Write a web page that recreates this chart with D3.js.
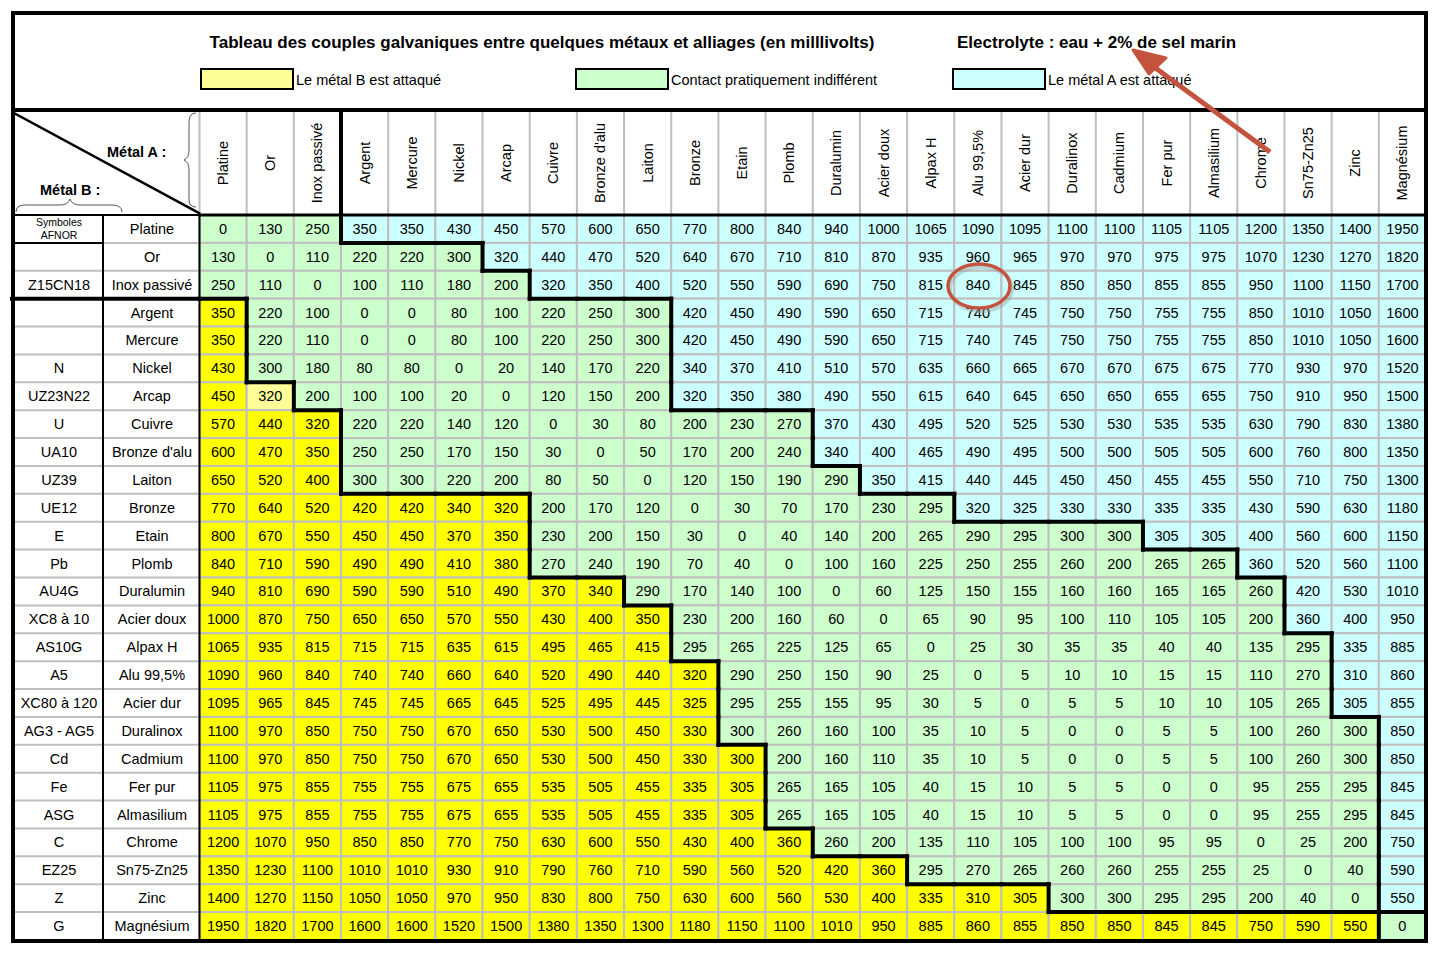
<!DOCTYPE html>
<html><head><meta charset="utf-8">
<script src="https://cdn.jsdelivr.net/npm/d3@7"></script>
<style>body{margin:0;background:#fff}text{font-family:"Liberation Sans",Arial,sans-serif}</style>
</head><body>
<svg id="c" width="1443" height="961"></svg>
<script>
const metals = ["Platine","Or","Inox passivé","Argent","Mercure","Nickel","Arcap","Cuivre","Bronze d'alu","Laiton","Bronze","Etain","Plomb","Duralumin","Acier doux","Alpax H","Alu 99,5%","Acier dur","Duralinox","Cadmium","Fer pur","Almasilium","Chrome","Sn75-Zn25","Zinc","Magnésium"];
const afnor = ["","","Z15CN18","","","N","UZ23N22","U","UA10","UZ39","UE12","E","Pb","AU4G","XC8 à 10","AS10G","A5","XC80 à 120","AG3 - AG5","Cd","Fe","ASG","C","EZ25","Z","G"];
const values = [
[0,130,250,350,350,430,450,570,600,650,770,800,840,940,1000,1065,1090,1095,1100,1100,1105,1105,1200,1350,1400,1950],
[130,0,110,220,220,300,320,440,470,520,640,670,710,810,870,935,960,965,970,970,975,975,1070,1230,1270,1820],
[250,110,0,100,110,180,200,320,350,400,520,550,590,690,750,815,840,845,850,850,855,855,950,1100,1150,1700],
[350,220,100,0,0,80,100,220,250,300,420,450,490,590,650,715,740,745,750,750,755,755,850,1010,1050,1600],
[350,220,110,0,0,80,100,220,250,300,420,450,490,590,650,715,740,745,750,750,755,755,850,1010,1050,1600],
[430,300,180,80,80,0,20,140,170,220,340,370,410,510,570,635,660,665,670,670,675,675,770,930,970,1520],
[450,320,200,100,100,20,0,120,150,200,320,350,380,490,550,615,640,645,650,650,655,655,750,910,950,1500],
[570,440,320,220,220,140,120,0,30,80,200,230,270,370,430,495,520,525,530,530,535,535,630,790,830,1380],
[600,470,350,250,250,170,150,30,0,50,170,200,240,340,400,465,490,495,500,500,505,505,600,760,800,1350],
[650,520,400,300,300,220,200,80,50,0,120,150,190,290,350,415,440,445,450,450,455,455,550,710,750,1300],
[770,640,520,420,420,340,320,200,170,120,0,30,70,170,230,295,320,325,330,330,335,335,430,590,630,1180],
[800,670,550,450,450,370,350,230,200,150,30,0,40,140,200,265,290,295,300,300,305,305,400,560,600,1150],
[840,710,590,490,490,410,380,270,240,190,70,40,0,100,160,225,250,255,260,200,265,265,360,520,560,1100],
[940,810,690,590,590,510,490,370,340,290,170,140,100,0,60,125,150,155,160,160,165,165,260,420,530,1010],
[1000,870,750,650,650,570,550,430,400,350,230,200,160,60,0,65,90,95,100,110,105,105,200,360,400,950],
[1065,935,815,715,715,635,615,495,465,415,295,265,225,125,65,0,25,30,35,35,40,40,135,295,335,885],
[1090,960,840,740,740,660,640,520,490,440,320,290,250,150,90,25,0,5,10,10,15,15,110,270,310,860],
[1095,965,845,745,745,665,645,525,495,445,325,295,255,155,95,30,5,0,5,5,10,10,105,265,305,855],
[1100,970,850,750,750,670,650,530,500,450,330,300,260,160,100,35,10,5,0,0,5,5,100,260,300,850],
[1100,970,850,750,750,670,650,530,500,450,330,300,200,160,110,35,10,5,0,0,5,5,100,260,300,850],
[1105,975,855,755,755,675,655,535,505,455,335,305,265,165,105,40,15,10,5,5,0,0,95,255,295,845],
[1105,975,855,755,755,675,655,535,505,455,335,305,265,165,105,40,15,10,5,5,0,0,95,255,295,845],
[1200,1070,950,850,850,770,750,630,600,550,430,400,360,260,200,135,110,105,100,100,95,95,0,25,200,750],
[1350,1230,1100,1010,1010,930,910,790,760,710,590,560,520,420,360,295,270,265,260,260,255,255,25,0,40,590],
[1400,1270,1150,1050,1050,970,950,830,800,750,630,600,560,530,400,335,310,305,300,300,295,295,200,40,0,550],
[1950,1820,1700,1600,1600,1520,1500,1380,1350,1300,1180,1150,1100,1010,950,885,860,855,850,850,845,845,750,590,550,0]];
// first column index where metal A is attacked (cyan), per row
const cyanStart = [3,6,7,10,10,10,10,13,13,14,16,20,22,23,23,24,24,24,25,25,25,25,25,25,25,26];
// number of leading columns where metal B is attacked (yellow), per row
const yellowEnd = [0,0,0,1,1,1,2,3,3,3,7,7,7,9,10,10,11,11,11,12,12,12,13,15,18,25];
const paleCells = [[6,1]];
const legend = [["Le métal B est attaqué","#ffff99"],["Contact pratiquement indifférent","#ccffcc"],["Le métal A est attaqué","#ccffff"]];

const svg = d3.select("#c");
const x = d3.scaleBand().domain(d3.range(26)).range([199.5,1426]);
const y = d3.scaleBand().domain(d3.range(26)).range([215,940]);
const W = x.bandwidth(), H = y.bandwidth();
const region = (i,j)=> j>=cyanStart[i]?"A":(j<yellowEnd[i]?"B":"N");
const fill = {A:"#ccffff",B:"#ffff00",N:"#ccffcc"};
const isPale=(i,j)=>paleCells.some(p=>p[0]===i&&p[1]===j);

// title & legend
svg.append("text").attr("x",542).attr("y",48).attr("text-anchor","middle").attr("font-size",17).attr("font-weight","bold").text("Tableau des couples galvaniques entre quelques métaux et alliages (en milllivolts)");
svg.append("text").attr("x",957).attr("y",48).attr("font-size",17).attr("font-weight","bold").text("Electrolyte : eau + 2% de sel marin");
const lx=[201,576,953];
legend.forEach((l,k)=>{
  svg.append("rect").attr("x",lx[k]).attr("y",69).attr("width",92).attr("height",20).attr("fill",l[1]).attr("stroke","#000").attr("stroke-width",2);
  svg.append("text").attr("x",lx[k]+95).attr("y",85).attr("font-size",14.5).text(l[0]);
});

// cells
const cells=[];
values.forEach((row,i)=>row.forEach((v,j)=>cells.push({i,j,v})));
svg.append("g").selectAll("rect").data(cells).join("rect")
 .attr("x",d=>x(d.j)).attr("y",d=>y(d.i)).attr("width",W).attr("height",H)
 .attr("fill",d=>isPale(d.i,d.j)?"#ffff99":fill[region(d.i,d.j)]).attr("stroke","#bfbfbf").attr("stroke-width",2);
svg.append("g").selectAll("text").data(cells).join("text")
 .attr("x",d=>x(d.j)+W/2).attr("y",d=>y(d.i)+H/2+5).attr("text-anchor","middle").attr("font-size",14.5).text(d=>d.v);

// left labels
const lg=svg.append("g");
metals.forEach((m,i)=>{
  lg.append("line").attr("x1",12).attr("x2",199).attr("y1",y(i)+H).attr("y2",y(i)+H).attr("stroke","#bfbfbf").attr("stroke-width",2);
  lg.append("text").attr("x",152).attr("y",y(i)+H/2+5).attr("text-anchor","middle").attr("font-size",14.5).text(m);
  if(i>0) lg.append("text").attr("x",59).attr("y",y(i)+H/2+5).attr("text-anchor","middle").attr("font-size",14.5).text(afnor[i]);
});
lg.append("text").attr("x",59).attr("y",y(0)+11).attr("text-anchor","middle").attr("font-size",10.5).text("Symboles");
lg.append("text").attr("x",59).attr("y",y(0)+24).attr("text-anchor","middle").attr("font-size",10.5).text("AFNOR");
const bl=(x1,y1,x2,y2,w)=>svg.append("line").attr("x1",x1).attr("y1",y1).attr("x2",x2).attr("y2",y2).attr("stroke","#000").attr("stroke-width",w).attr("stroke-linecap","square");
bl(103,215,103,940,2); bl(199.5,215,199.5,940,2); bl(12,215,199.5,215,2); bl(12,y(1),103,y(1),2);

// header labels
svg.append("g").selectAll("text").data(metals).join("text")
 .attr("transform",(d,j)=>`translate(${x(j)+W/2+5},163) rotate(-90)`).attr("text-anchor","middle").attr("font-size",14.5).text(d=>d);
svg.append("g").selectAll("line").data(d3.range(27)).join("line")
 .attr("x1",j=>x.range()[0]+j*W).attr("x2",j=>x.range()[0]+j*W).attr("y1",112).attr("y2",215).attr("stroke","#bfbfbf").attr("stroke-width",2);
bl(x(0),215,1426,215,3);

// corner
bl(14,113,199,213,2.5);
svg.append("text").attr("x",107).attr("y",157).attr("font-size",14.5).attr("font-weight","bold").text("Métal A :");
svg.append("text").attr("x",40).attr("y",195).attr("font-size",14.5).attr("font-weight","bold").text("Métal B :");
svg.append("path").attr("d","M196,113 Q189,113 189,122 L189,150 Q189,158 184,160 Q189,162 189,170 L189,200 Q189,207 196,207").attr("fill","none").attr("stroke","#555").attr("stroke-width",1);
svg.append("path").attr("d","M16,212 Q16,205 25,205 L60,205 Q68,205 70,199 Q72,205 80,205 L112,205 Q122,205 122,212").attr("fill","none").attr("stroke","#555").attr("stroke-width",1);

// staircase borders
const th=svg.append("g");
for(let i=0;i<26;i++)for(let j=0;j<26;j++){
  const r=region(i,j);
  if(j<25&&region(i,j+1)!==r) bl(x(j)+W,y(i),x(j)+W,y(i)+H,4);
  if(i<25&&region(i+1,j)!==r) bl(x(j),y(i)+H,x(j)+W,y(i)+H,4);
}
bl(12,y(3),x(0),y(3),4);
bl(x(3),110,x(3),215,4);

// outer
svg.append("rect").attr("x",13).attr("y",13).attr("width",1413).attr("height",928).attr("fill","none").attr("stroke","#000").attr("stroke-width",4);
bl(13,110,1426,110,4);

// annotations
const red="#c4533d";
svg.append("ellipse").attr("cx",979).attr("cy",286).attr("rx",31).attr("ry",22).attr("fill","none").attr("stroke","#999").attr("stroke-width",4).attr("opacity",0.4).attr("transform","translate(2,3)");
svg.append("ellipse").attr("cx",979).attr("cy",286).attr("rx",31).attr("ry",22).attr("fill","none").attr("stroke",red).attr("stroke-width",3.5);
svg.append("line").attr("x1",1270).attr("y1",152).attr("x2",1150).attr("y2",64).attr("stroke",red).attr("stroke-width",5);
svg.append("path").attr("d","M1133,50 L1166,58 L1149,74 Z").attr("fill",red).attr("stroke",red).attr("stroke-width",3).attr("stroke-linejoin","round");
</script></body></html>
